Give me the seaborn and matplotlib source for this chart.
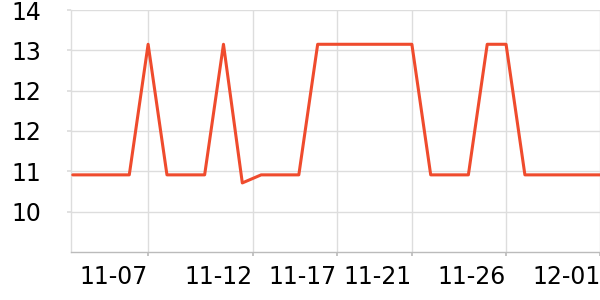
import matplotlib
matplotlib.use("Agg")
import matplotlib.pyplot as plt
import seaborn as sns
import pandas as pd

# data (index 0 = 11-03, daily)
dates = ["11-03", "11-04", "11-05", "11-06", "11-07", "11-08", "11-09", "11-10",
         "11-11", "11-12", "11-13", "11-14", "11-15", "11-16", "11-17", "11-18",
         "11-19", "11-20", "11-21", "11-22", "11-23", "11-24", "11-25", "11-26",
         "11-27", "11-28", "11-29", "11-30", "12-01"]
values = [10.73, 10.73, 10.73, 10.73, 13.32, 10.73, 10.73, 10.73,
          13.32, 10.57, 10.73, 10.73, 10.73, 13.32, 13.32, 13.32,
          13.32, 13.32, 13.32, 10.73, 10.73, 10.73, 13.32, 13.32,
          10.73, 10.73, 10.73, 10.73, 10.73]
tick_labels = ["11-07", "11-12", "11-17", "11-21", "11-26", "12-01"]
tick_pos = [4, 9.56, 14, 18, 23, 28]
y_ticks = [14.0, 13.2, 12.4, 11.6, 10.8, 10.0]

df = pd.DataFrame({"i": range(len(values)), "v": values})

sns.set_theme(style="white")
plt.rcParams["font.family"] = ["DejaVu Sans"]

fig = plt.figure(figsize=(6, 3), dpi=100)
ax = fig.add_axes([70.5 / 600, 1 - 252 / 300, (600 - 70.5) / 600 + 0.002, (252 - 10) / 300])

sns.lineplot(data=df, x="i", y="v", ax=ax, color="#EF4B2D", linewidth=2.2, zorder=3)

ax.set_xlim(-0.12, 28.05)
ax.set_ylim(9.2, 14.0)
ax.set_yticks(y_ticks)
ax.set_yticklabels([f"{v:.0f}" for v in y_ticks])
ax.set_xticks(tick_pos)
ax.set_xticklabels(tick_labels, ha="right")

ax.grid(True, color="#DDDDDD", linewidth=1.0, zorder=0)
ax.set_axisbelow(True)
for s in ["top", "right"]:
    ax.spines[s].set_visible(False)
ax.spines["left"].set_color("#DDDDDD")
ax.spines["bottom"].set_color("#BBBBBB")
ax.spines["left"].set_linewidth(1.0)
ax.spines["bottom"].set_linewidth(1.0)

ax.tick_params(axis="y", length=3, color="#DDDDDD", pad=18, labelsize=17, labelcolor="black", left=True)
ax.tick_params(axis="x", length=3, color="#BBBBBB", pad=6, labelsize=17, labelcolor="black", bottom=True)
ax.set_xlabel("")
ax.set_ylabel("")

fig.savefig("out.png", dpi=100)
